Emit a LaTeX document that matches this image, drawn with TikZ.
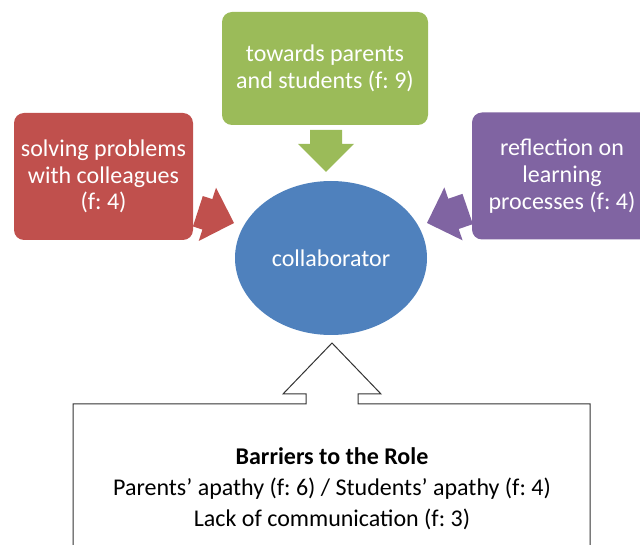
\documentclass[tikz,border=0pt]{standalone}
\usepackage{fontspec}
\setmainfont{Carlito}
\usepackage{tikz}
\usetikzlibrary{shapes, arrows.meta, positioning}
\definecolor{roleBlue}{HTML}{4F81BD}
\definecolor{roleRed}{HTML}{C0504D}
\definecolor{roleGreen}{HTML}{9BBB59}
\definecolor{rolePurple}{HTML}{8064A2}
\frenchspacing
\tikzstyle{rolebox}=[rectangle, rounded corners=7.5pt, text=white, align=center, inner sep=0pt, font=\fontsize{18}{20}\selectfont]
\tikzstyle{roleellipse}=[ellipse, fill=roleBlue, text=white, minimum width=144pt, minimum height=115.5pt, inner sep=0pt, font=\fontsize{18}{20}\selectfont]
\tikzstyle{callout}=[draw=black!80, line width=0.75pt, fill=white]
\tikzstyle{barriertext}=[align=center, inner sep=0pt, font=\fontsize{18}{23.25}\selectfont]
% block arrow: colour, tip, angle, length
\newcommand{\drawBlockArrow}[4]{
    \fill[#1, shift={#2}, rotate=#3] (0,0) -- (-28,28) -- (-28,16) -- (-#4,16)
        -- (-#4,-16) -- (-28,-16) -- (-28,-28) -- cycle;
}

\begin{document}
\begin{tikzpicture}[x=0.75pt, y=-0.75pt]
    \path[use as bounding box] (0,0) rectangle (640,545);
    \clip (0,0) rectangle (640,545);

    % Centre
    \node[roleellipse] (collab) at (331,258) {collaborator};

    % Aspects of the role
    \node[rolebox, fill=roleGreen, minimum width=154.5pt, minimum height=84.75pt] (towards) at (325,68.5) {towards parents\\and students (f: 9)};
    \node[rolebox, fill=roleRed, minimum width=134.25pt, minimum height=95.25pt] (solving) at (103.5,176.5) {solving problems\\with colleagues\\(f: 4)};
    \node[rolebox, fill=rolePurple, minimum width=135pt, minimum height=95.25pt] (reflection) at (562,176) {reflection on\\learning\\processes (f: 4)};

    % Arrows into the centre
    \drawBlockArrow{roleGreen}{(326,172)}{-90}{42}
    \drawBlockArrow{roleRed}{(234,223)}{-18}{38}
    \drawBlockArrow{rolePurple}{(427,223)}{199}{43}

    % Barriers callout
    \draw[callout] (73,575) -- (73,404) -- (306,404) -- (306,394) -- (283,394) -- (332,343)
        -- (381,394) -- (358,394) -- (358,404) -- (590,404) -- (590,575) -- cycle;
    \node[barriertext] (barriers) at (332,489) {\textbf{Barriers to the Role}\\Parents' apathy (f: 6) / Students' apathy (f: 4)\\Lack of communication (f: 3)};
\end{tikzpicture}
\end{document}
